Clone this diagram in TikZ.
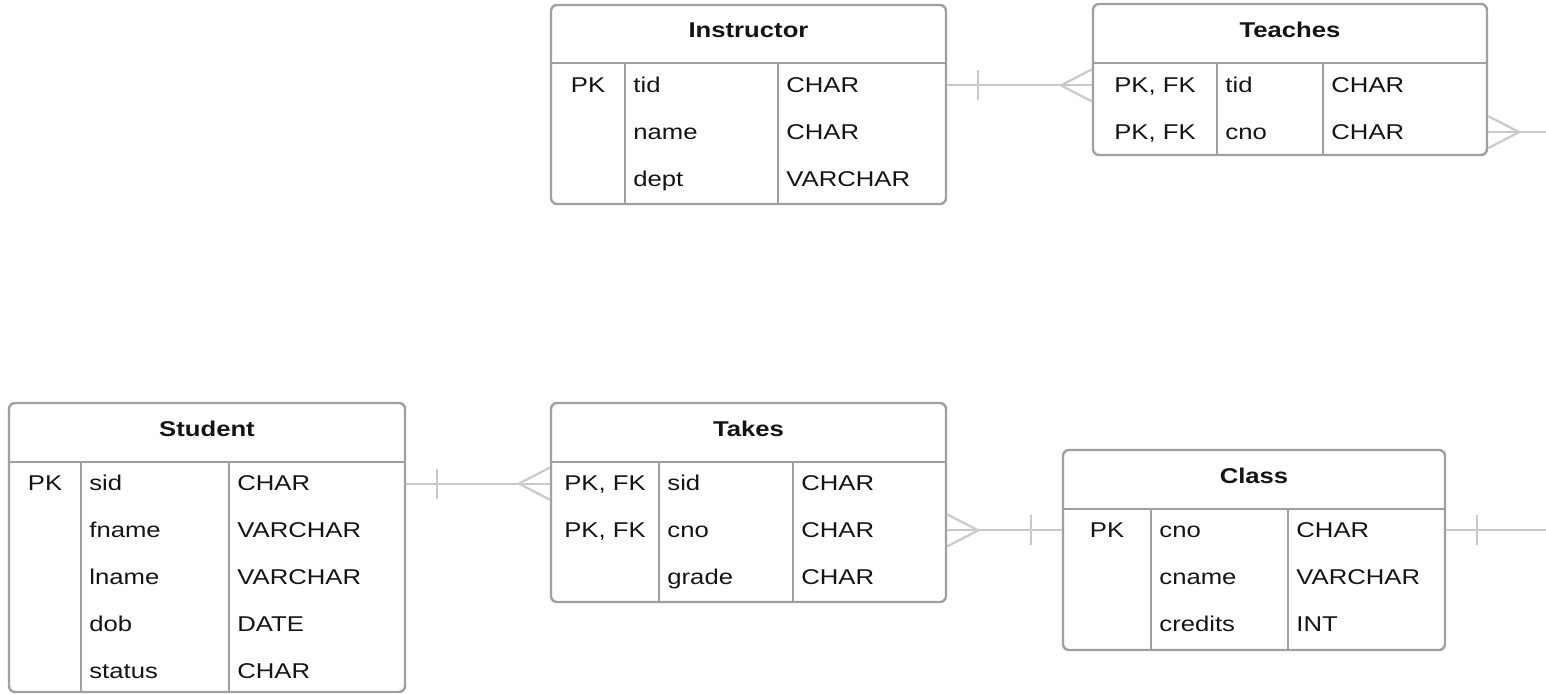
\documentclass[tikz,border=0pt]{standalone}
\usepackage{fontspec}
\setmainfont{Liberation Sans}[FakeStretch=1.2]
\usepackage{tikz}
\usetikzlibrary{fit}
\definecolor{boxgray}{RGB}{160,160,160}
\definecolor{linkgray}{RGB}{202,202,202}
\definecolor{ink}{RGB}{20,20,20}
\tikzset{
  tbl/.style={draw=boxgray, line width=1.2pt, rounded corners=3pt, inner sep=0pt},
  sep/.style={draw=boxgray, line width=1.2pt},
  hdr/.style={font=\fontsize{10.7}{12}\selectfont\bfseries, text=ink, anchor=base},
  key/.style={font=\fontsize{10.7}{12}\selectfont, text=ink, anchor=base},
  fld/.style={font=\fontsize{10.7}{12}\selectfont, text=ink, anchor=base west, inner xsep=0pt},
  rel/.style={draw=linkgray, line width=1.1pt},
  many/.pic={\draw[rel] (0,-16) -- (31,0) -- (0,16);},
  one/.pic={\draw[rel] (31,-15) -- (31,15);}
}

\begin{document}
\begin{tikzpicture}[x=0.5pt, y=-0.5pt]
    \useasboundingbox (0,0) rectangle (1546,694);
    \coordinate (rim) at (1546,0);

    % Instructor
    \node[tbl, fit={(551,5) (946,204)}] (ins) {};
    \draw[sep] (551,63) -- (946,63) (625,63) -- (625,204) (778,63) -- (778,204);
    \node[hdr] (ins-h) at (748.5,38) {Instructor};
    \node[key] (ins-k1) at (588,93) {PK};
    \foreach \n/\t [count=\i] in {tid/CHAR, name/CHAR, dept/VARCHAR} {
      \node[fld] (ins-n\i) at (633,46+46.75*\i) {\n};
      \node[fld] (ins-t\i) at (786,46+46.75*\i) {\t};
    }

    % Teaches
    \node[tbl, fit={(1093,4) (1487,155)}] (tea) {};
    \draw[sep] (1093,63) -- (1487,63) (1217,63) -- (1217,155) (1323,63) -- (1323,155);
    \node[hdr] (tea-h) at (1290,38) {Teaches};
    \foreach \n [count=\i] in {tid, cno} {
      \node[key] (tea-k\i) at (1155,46+46.75*\i) {PK, FK};
      \node[fld] (tea-n\i) at (1225,46+46.75*\i) {\n};
      \node[fld] (tea-t\i) at (1331,46+46.75*\i) {CHAR};
    }

    % Student
    \node[tbl, fit={(9,403) (405,692)}] (stu) {};
    \draw[sep] (9,462) -- (405,462) (81,462) -- (81,692) (229,462) -- (229,692);
    \node[hdr] (stu-h) at (207,437) {Student};
    \node[key] (stu-k1) at (45,491) {PK};
    \foreach \n/\t [count=\i] in {sid/CHAR, fname/VARCHAR, lname/VARCHAR, dob/DATE, status/CHAR} {
      \node[fld] (stu-n\i) at (89,444.25+46.75*\i) {\n};
      \node[fld] (stu-t\i) at (237,444.25+46.75*\i) {\t};
    }

    % Takes
    \node[tbl, fit={(551,403) (946,602)}] (tak) {};
    \draw[sep] (551,462) -- (946,462) (659,462) -- (659,602) (793,462) -- (793,602);
    \node[hdr] (tak-h) at (748.5,437) {Takes};
    \node[key] (tak-k1) at (605,491) {PK, FK};
    \node[key] (tak-k2) at (605,537.75) {PK, FK};
    \foreach \n [count=\i] in {sid, cno, grade} {
      \node[fld] (tak-n\i) at (667,444.25+46.75*\i) {\n};
      \node[fld] (tak-t\i) at (801,444.25+46.75*\i) {CHAR};
    }

    % Class
    \node[tbl, fit={(1063,450) (1445,650)}] (cls) {};
    \draw[sep] (1063,509) -- (1445,509) (1151,509) -- (1151,650) (1288,509) -- (1288,650);
    \node[hdr] (cls-h) at (1254,484) {Class};
    \node[key] (cls-k1) at (1107,537.5) {PK};
    \foreach \n/\t [count=\i] in {cno/CHAR, cname/VARCHAR, credits/INT} {
      \node[fld] (cls-n\i) at (1159,490.75+46.75*\i) {\n};
      \node[fld] (cls-t\i) at (1296,490.75+46.75*\i) {\t};
    }

    % relationships
    \draw[rel] (ins.east |- ins-t1) -- (tea.west |- ins-t1);
    \pic at (ins.east |- ins-t1) {one};
    \pic[rotate=180] at (tea.west |- ins-t1) {many};

    \draw[rel] (tea.east |- tea-t2) -- (rim |- tea-t2);
    \pic at (tea.east |- tea-t2) {many};

    \draw[rel] (stu.east |- stu-t1) -- (tak.west |- stu-t1);
    \pic at (stu.east |- stu-t1) {one};
    \pic[rotate=180] at (tak.west |- stu-t1) {many};

    \draw[rel] (tak.east |- tak-t2) -- (cls.west |- tak-t2);
    \pic at (tak.east |- tak-t2) {many};
    \pic[rotate=180] at (cls.west |- tak-t2) {one};

    \draw[rel] (cls.east |- cls-t1) -- (rim |- cls-t1);
    \pic at (cls.east |- cls-t1) {one};
\end{tikzpicture}
\end{document}
